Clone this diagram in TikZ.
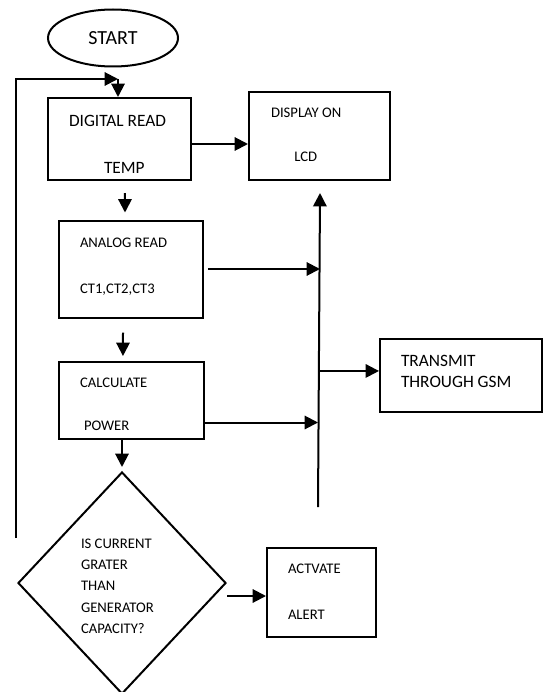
\documentclass[tikz,border=0pt]{standalone}
\usepackage{fontspec}
\setmainfont{Carlito}
\usepackage{tikz}
\usetikzlibrary{arrows.meta}
\usetikzlibrary{shapes.geometric}

\begin{document}
\begin{tikzpicture}[x=0.75pt, y=-0.75pt, line width=1.5pt,
    box/.style={draw, rectangle, inner sep=0pt},
    txt/.style={anchor=north west, inner sep=0pt, align=left,
      font=\fontsize{11}{16}\selectfont},
    bigtxt/.style={txt, font=\fontsize{13}{15.75}\selectfont},
    arr/.style={-{Triangle[length=10pt, width=10pt]}}]
  \useasboundingbox (0,0) rectangle (543,692);
  \node[draw, ellipse, minimum width=97.5pt, minimum height=42.75pt,
    font=\fontsize{15}{18}\selectfont] (start) at (113,38) {START};
  % boxes
  \node[box, minimum width=107.25pt, minimum height=61.5pt] (dread) at (119.5,139) {};
  \node[box, minimum width=105.75pt, minimum height=66pt] (disp) at (319.5,136) {};
  \node[box, minimum width=108pt, minimum height=72.75pt] (aread) at (131,269) {};
  \node[box, minimum width=108.75pt, minimum height=57.75pt] (calc) at (131.5,400.5) {};
  \node[box, minimum width=121.5pt, minimum height=54.75pt] (gsm) at (461,375.5) {};
  \node[box, minimum width=81.75pt, minimum height=66.75pt] (alert) at (321.5,592.5) {};
  \node[draw, diamond, inner sep=0pt, minimum width=156pt, minimum height=166.5pt]
    (check) at (122,583) {};
  % texts
  \node[bigtxt] (dread-a) at (68,114) {DIGITAL READ};
  \node[bigtxt] (dread-b) at (103,161) {TEMP};
  \node[txt] (disp-a) at (270,106.7) {DISPLAY ON};
  \node[txt] (disp-b) at (293.3,151) {LCD};
  \node[txt] (aread-a) at (79,236.7) {ANALOG READ};
  \node[txt] (aread-b) at (79,282.7) {CT1,CT2,CT3};
  \node[txt] (calc-a) at (79,376.7) {CALCULATE};
  \node[txt] (calc-b) at (83,420) {POWER};
  \node[bigtxt] (gsm-a) at (400,354.3) {TRANSMIT\\THROUGH GSM};
  \node[txt] (alert-a) at (287,563.3) {ACTVATE};
  \node[txt] (alert-b) at (287,609.3) {ALERT};
  \node[txt] (check-a) at (80,537.7) {IS CURRENT\\GRATER\\THAN\\GENERATOR\\CAPACITY?};
  % loop back and bus
  \coordinate (loopbot) at (16,538);
  \coordinate (loopcorner) at (16,79);
  \coordinate (looptop) at (118,79);
  \coordinate (bustop) at (320,193);
  \coordinate (busbot) at (318,507);
  \draw[arr] (loopbot) -- (loopcorner) -- (looptop);
  \draw[arr] (looptop) -- (looptop |- dread.north);
  \draw[arr] (busbot) -- (bustop);
  % arrows
  \draw[arr] ([yshift=-3.75pt]dread.east) -- ([yshift=-3.75pt]dread.east -| disp.west);
  \draw[arr] ([xshift=4.1pt, yshift=-9pt]dread.south) -- ([xshift=-4.5pt, yshift=5.25pt]aread.north);
  \draw[arr] ([xshift=-6pt, yshift=-10.5pt]aread.south) -- ([xshift=-6.4pt, yshift=3.75pt]calc.north);
  \draw[arr] (calc.south -| check.north) -- ([yshift=3pt]check.north);
  \draw[arr] ([xshift=3pt]aread.east) -- (aread.east -| bustop);
  \draw[arr] ([yshift=-16.5pt]calc.east) -- ([yshift=-16.5pt]calc.east -| busbot);
  \draw[arr] ([yshift=3.4pt]gsm.west -| bustop) -- ([yshift=3.4pt]gsm.west);
  \draw[arr] ([yshift=-9.75pt]check.east) -- ([yshift=-9.75pt]check.east -| alert.west);
\end{tikzpicture}
\end{document}
